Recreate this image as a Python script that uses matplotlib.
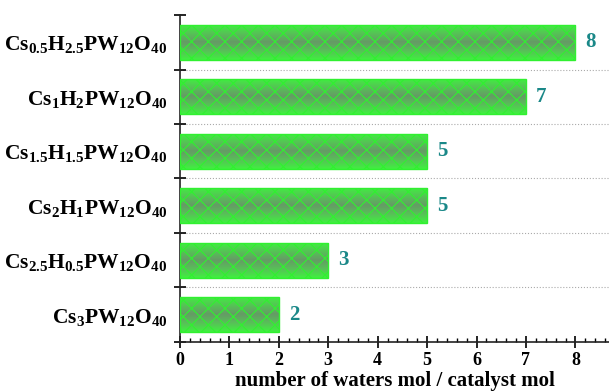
import numpy as np
import matplotlib
matplotlib.use('Agg')
import matplotlib.pyplot as plt
from matplotlib.colors import LinearSegmentedColormap
from matplotlib.ticker import MultipleLocator

plt.rcParams['font.family'] = 'Liberation Serif'
plt.rcParams['font.weight'] = 'bold'
plt.rcParams['mathtext.fontset'] = 'custom'
plt.rcParams['mathtext.rm'] = 'Liberation Serif:bold'
plt.rcParams['mathtext.bf'] = 'Liberation Serif:bold'
plt.rcParams['mathtext.it'] = 'Liberation Serif:bold'
plt.rcParams['hatch.linewidth'] = 0.8

# data, top to bottom
catalysts = [r'$\mathbf{Cs_{0.5}H_{2.5}PW_{12}O_{40}}$',
             r'$\mathbf{Cs_{1}H_{2}PW_{12}O_{40}}$',
             r'$\mathbf{Cs_{1.5}H_{1.5}PW_{12}O_{40}}$',
             r'$\mathbf{Cs_{2}H_{1}PW_{12}O_{40}}$',
             r'$\mathbf{Cs_{2.5}H_{0.5}PW_{12}O_{40}}$',
             r'$\mathbf{Cs_{3}PW_{12}O_{40}}$']
waters = [8, 7, 5, 5, 3, 2]

fig = plt.figure(figsize=(6.09, 3.92), dpi=100)
ax = fig.add_axes([0.2956, 0.1276, 0.7044, 0.8341])

n = len(catalysts)
ypos = np.arange(n)[::-1]
h = 0.65

cmap = LinearSegmentedColormap.from_list('g', ['#40f040', '#58c058', '#669a66', '#55c455', '#40f040'])
grad = np.linspace(0, 1, 64).reshape(-1, 1)

bars = ax.barh(ypos, waters, height=h, color='none', edgecolor='#30f030',
               hatch='xx', linewidth=1.0, zorder=3)
for b in bars:
    x0, y0 = b.get_x(), b.get_y()
    im = ax.imshow(grad, cmap=cmap, aspect='auto', zorder=2,
                   extent=[x0, x0 + b.get_width(), y0 + b.get_height(), y0])
    im.set_clip_path(b)

for y, v in zip(ypos, waters):
    ax.text(v + 0.2, y, str(v), color='#1a8888', fontsize=15,
            fontweight='bold', va='center', ha='left')

ax.set_xlim(0, 8.68)
ax.set_ylim(-0.5, n - 0.5)

# grid lines between categories
for yb in np.arange(0.5, n - 0.5, 1.0):
    ax.axhline(yb, color='#aaaaaa', linestyle=':', linewidth=0.8, zorder=1)

ax.set_yticks(np.arange(-0.5, n, 1.0))
ax.set_yticklabels([])
ax.set_yticks(ypos, minor=True)
ax.set_yticklabels(catalysts, minor=True, fontsize=15.5)
ax.tick_params(axis='y', which='major', direction='inout', length=8, width=1.2)
ax.tick_params(axis='y', which='minor', direction='in', length=3, width=1.0, pad=9)

ax.xaxis.set_major_locator(MultipleLocator(1))
ax.xaxis.set_minor_locator(MultipleLocator(0.2))
ax.tick_params(axis='x', which='major', direction='inout', length=8, width=1.2, labelsize=13)
ax.tick_params(axis='x', which='minor', direction='in', length=3, width=1.0)

ax.spines['top'].set_visible(False)
ax.spines['right'].set_visible(False)
for s in ['left', 'bottom']:
    ax.spines[s].set_linewidth(1.2)
    ax.spines[s].set_color('#222222')

ax.set_xlabel('number of waters mol / catalyst mol', fontsize=15, fontweight='bold', labelpad=1)

fig.savefig('out.png', dpi=100)
